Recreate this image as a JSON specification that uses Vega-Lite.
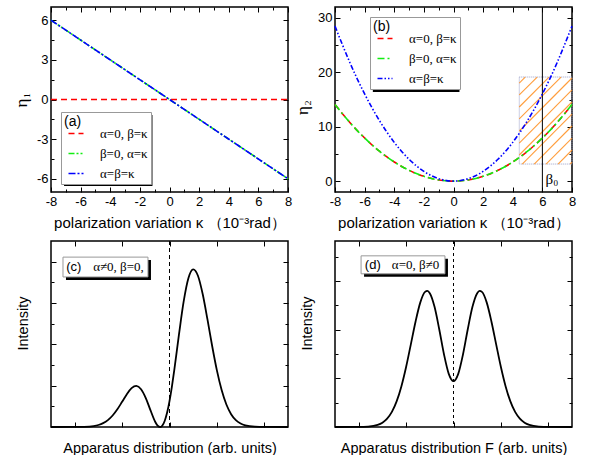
{
  "$schema": "https://vega.github.io/schema/vega-lite/v6.json",
  "padding": {"left": 11, "top": 5, "right": 5, "bottom": 5},
  "bounds": "flush",
  "columns": 2,
  "spacing": {"row": 49, "column": 47},
  "resolve": {
    "scale": {"x": "independent", "y": "independent", "color": "independent", "strokeDash": "independent"},
    "legend": {"color": "independent", "strokeDash": "independent"}
  },
  "config": {
    "view": {"stroke": "#000", "strokeWidth": 1.5},
    "axis": {
      "domain": false, "grid": false, "tickColor": "#000", "tickWidth": 1,
      "labelFont": "Liberation Sans", "labelFontSize": 13, "labelColor": "#000",
      "titleFont": "Liberation Sans", "titleFontSize": 14, "titleFontWeight": "normal", "titleColor": "#000",
      "labelFlush": false, "labelOverlap": false
    },
    "legend": {
      "titleFont": "Liberation Sans", "titleFontSize": 14, "titleFontWeight": "normal", "titleColor": "#000",
      "labelFont": "Liberation Serif", "labelFontSize": 13, "labelColor": "#000",
      "symbolType": "M-0.5,0H1.643", "symbolSize": 196, "symbolStrokeWidth": 1.6,
      "padding": 3, "rowPadding": 5, "labelOffset": 20, "titlePadding": -3.5,
      "fillColor": "#fff", "strokeColor": "#999"
    },
    "text": {"color": "#000"}
  },
  "datasets": {
    "la": [
      {"k": -8, "eta": 0, "s": "α=0, β=κ"}, {"k": 8, "eta": 0, "s": "α=0, β=κ"},
      {"k": -8, "eta": 6, "s": "β=0, α=κ"}, {"k": 8, "eta": -6, "s": "β=0, α=κ"},
      {"k": -8, "eta": 6, "s": "α=β=κ"}, {"k": 8, "eta": -6, "s": "α=β=κ"}
    ],
    "lb": [
      {"k": -8, "eta": 14.08, "s": "α=0, β=κ"}, {"k": -7, "eta": 10.78, "s": "α=0, β=κ"}, {"k": -6, "eta": 7.92, "s": "α=0, β=κ"}, {"k": -5, "eta": 5.5, "s": "α=0, β=κ"}, {"k": -4, "eta": 3.52, "s": "α=0, β=κ"}, {"k": -3, "eta": 1.98, "s": "α=0, β=κ"}, {"k": -2, "eta": 0.88, "s": "α=0, β=κ"}, {"k": -1, "eta": 0.22, "s": "α=0, β=κ"}, {"k": 0, "eta": 0, "s": "α=0, β=κ"}, {"k": 1, "eta": 0.22, "s": "α=0, β=κ"}, {"k": 2, "eta": 0.88, "s": "α=0, β=κ"}, {"k": 3, "eta": 1.98, "s": "α=0, β=κ"}, {"k": 4, "eta": 3.52, "s": "α=0, β=κ"}, {"k": 5, "eta": 5.5, "s": "α=0, β=κ"}, {"k": 6, "eta": 7.92, "s": "α=0, β=κ"}, {"k": 7, "eta": 10.78, "s": "α=0, β=κ"}, {"k": 8, "eta": 14.08, "s": "α=0, β=κ"},
      {"k": -8, "eta": 14.08, "s": "β=0, α=κ"}, {"k": -7, "eta": 10.78, "s": "β=0, α=κ"}, {"k": -6, "eta": 7.92, "s": "β=0, α=κ"}, {"k": -5, "eta": 5.5, "s": "β=0, α=κ"}, {"k": -4, "eta": 3.52, "s": "β=0, α=κ"}, {"k": -3, "eta": 1.98, "s": "β=0, α=κ"}, {"k": -2, "eta": 0.88, "s": "β=0, α=κ"}, {"k": -1, "eta": 0.22, "s": "β=0, α=κ"}, {"k": 0, "eta": 0, "s": "β=0, α=κ"}, {"k": 1, "eta": 0.22, "s": "β=0, α=κ"}, {"k": 2, "eta": 0.88, "s": "β=0, α=κ"}, {"k": 3, "eta": 1.98, "s": "β=0, α=κ"}, {"k": 4, "eta": 3.52, "s": "β=0, α=κ"}, {"k": 5, "eta": 5.5, "s": "β=0, α=κ"}, {"k": 6, "eta": 7.92, "s": "β=0, α=κ"}, {"k": 7, "eta": 10.78, "s": "β=0, α=κ"}, {"k": 8, "eta": 14.08, "s": "β=0, α=κ"},
      {"k": -8, "eta": 28.48, "s": "α=β=κ"}, {"k": -7, "eta": 21.81, "s": "α=β=κ"}, {"k": -6, "eta": 16.02, "s": "α=β=κ"}, {"k": -5, "eta": 11.13, "s": "α=β=κ"}, {"k": -4, "eta": 7.12, "s": "α=β=κ"}, {"k": -3, "eta": 4.01, "s": "α=β=κ"}, {"k": -2, "eta": 1.78, "s": "α=β=κ"}, {"k": -1, "eta": 0.45, "s": "α=β=κ"}, {"k": 0, "eta": 0, "s": "α=β=κ"}, {"k": 1, "eta": 0.45, "s": "α=β=κ"}, {"k": 2, "eta": 1.78, "s": "α=β=κ"}, {"k": 3, "eta": 4.01, "s": "α=β=κ"}, {"k": 4, "eta": 7.12, "s": "α=β=κ"}, {"k": 5, "eta": 11.13, "s": "α=β=κ"}, {"k": 6, "eta": 16.02, "s": "α=β=κ"}, {"k": 7, "eta": 21.81, "s": "α=β=κ"}, {"k": 8, "eta": 28.48, "s": "α=β=κ"}
    ],
    "hatch": [
      {"x": 4.44, "y": 18.03, "x2": 4.84, "y2": 19.13},
      {"x": 4.44, "y": 15.83, "x2": 5.65, "y2": 19.13},
      {"x": 4.44, "y": 13.62, "x2": 6.45, "y2": 19.13},
      {"x": 4.44, "y": 11.42, "x2": 7.26, "y2": 19.13},
      {"x": 4.44, "y": 9.21, "x2": 8.0, "y2": 18.95},
      {"x": 4.44, "y": 7.0, "x2": 8.0, "y2": 16.75},
      {"x": 4.44, "y": 4.8, "x2": 8.0, "y2": 14.54},
      {"x": 4.64, "y": 3.14, "x2": 8.0, "y2": 12.33},
      {"x": 5.45, "y": 3.14, "x2": 8.0, "y2": 10.13},
      {"x": 6.25, "y": 3.14, "x2": 8.0, "y2": 7.92},
      {"x": 7.06, "y": 3.14, "x2": 8.0, "y2": 5.72},
      {"x": 7.87, "y": 3.14, "x2": 8.0, "y2": 3.51}
    ],
    "hbox": [{"x": 4.44, "x2": 8, "y": 3.14, "y2": 19.13}],
    "beta0": [{"x": 6, "y": -0.16, "t": "β", "sub": "0"}],
    "shA": [{"x": -7.12, "x2": -1.15, "y": -1.17, "y2": -6.55}],
    "shB": [{"x": -5.445, "x2": 0.403, "y": 29.61, "y2": 16.38}],
    "cc": [
      {"x": -2.5, "i": 0}, {"x": -2.0, "i": 0.0015}, {"x": -1.8, "i": 0.009}, {"x": -1.6, "i": 0.047}, {"x": -1.5, "i": 0.097}, {"x": -1.4, "i": 0.186}, {"x": -1.3, "i": 0.334}, {"x": -1.2, "i": 0.556}, {"x": -1.1, "i": 0.856}, {"x": -1.0, "i": 1.217}, {"x": -0.9, "i": 1.588}, {"x": -0.8, "i": 1.878}, {"x": -0.7, "i": 1.986}, {"x": -0.6, "i": 1.829}, {"x": -0.5, "i": 1.401}, {"x": -0.4, "i": 0.801}, {"x": -0.3, "i": 0.243}, {"x": -0.25, "i": 0.066}, {"x": -0.2, "i": 0}, {"x": -0.15, "i": 0.074}, {"x": -0.1, "i": 0.305}, {"x": -0.05, "i": 0.70}, {"x": 0, "i": 1.253}, {"x": 0.05, "i": 1.945}, {"x": 0.1, "i": 2.741}, {"x": 0.2, "i": 4.481}, {"x": 0.3, "i": 6.086}, {"x": 0.4, "i": 7.207}, {"x": 0.5, "i": 7.624}, {"x": 0.6, "i": 7.319}, {"x": 0.7, "i": 6.433}, {"x": 0.8, "i": 5.217}, {"x": 0.9, "i": 3.92}, {"x": 1.0, "i": 2.738}, {"x": 1.1, "i": 1.785}, {"x": 1.2, "i": 1.088}, {"x": 1.3, "i": 0.621}, {"x": 1.4, "i": 0.332}, {"x": 1.5, "i": 0.166}, {"x": 1.6, "i": 0.078}, {"x": 1.8, "i": 0.014}, {"x": 2.0, "i": 0.002}, {"x": 2.5, "i": 0}
    ],
    "dd": [
      {"x": -2.5, "i": 0}, {"x": -2.0, "i": 0.003}, {"x": -1.8, "i": 0.017}, {"x": -1.6, "i": 0.086}, {"x": -1.5, "i": 0.178}, {"x": -1.4, "i": 0.342}, {"x": -1.3, "i": 0.62}, {"x": -1.2, "i": 1.053}, {"x": -1.1, "i": 1.67}, {"x": -1.0, "i": 2.469}, {"x": -0.9, "i": 3.4}, {"x": -0.8, "i": 4.341}, {"x": -0.7, "i": 5.125}, {"x": -0.6, "i": 5.557}, {"x": -0.55, "i": 5.596}, {"x": -0.5, "i": 5.503}, {"x": -0.4, "i": 4.942}, {"x": -0.3, "i": 4.011}, {"x": -0.2, "i": 2.982}, {"x": -0.1, "i": 2.185}, {"x": 0, "i": 1.885},
      {"x": 0.1, "i": 2.185}, {"x": 0.2, "i": 2.982}, {"x": 0.3, "i": 4.011}, {"x": 0.4, "i": 4.942}, {"x": 0.5, "i": 5.503}, {"x": 0.55, "i": 5.596}, {"x": 0.6, "i": 5.557}, {"x": 0.7, "i": 5.125}, {"x": 0.8, "i": 4.341}, {"x": 0.9, "i": 3.4}, {"x": 1.0, "i": 2.469}, {"x": 1.1, "i": 1.67}, {"x": 1.2, "i": 1.053}, {"x": 1.3, "i": 0.62}, {"x": 1.4, "i": 0.342}, {"x": 1.5, "i": 0.178}, {"x": 1.6, "i": 0.086}, {"x": 1.8, "i": 0.017}, {"x": 2.0, "i": 0.003}, {"x": 2.5, "i": 0}
    ],
    "zero": [{"x": 0}],
    "boxC": [{"x": -2.247, "x2": -0.454, "y": 7.26, "y2": 8.22}],
    "shC": [{"x": -2.184, "x2": -0.391, "y": 7.115, "y2": 8.075}],
    "txtC": [{"x": -2.18, "y": 7.74, "a": "(c)", "b": "α≠0, β=0,"}],
    "boxD": [{"x": -1.95, "x2": -0.18, "y": 6.30, "y2": 7.04}],
    "shD": [{"x": -1.887, "x2": -0.117, "y": 6.177, "y2": 6.917}],
    "txtD": [{"x": -1.87, "y": 6.67, "a": "(d)", "b": "α=0, β≠0"}]
  },
  "concat": [
    {
      "width": 237, "height": 185,
      "resolve": {"axis": {"x": "independent", "y": "independent"}},
      "layer": [
        {
          "data": {"name": "shA"},
          "mark": {"type": "rect", "color": "#000"},
          "encoding": {
            "x": {"field": "x", "type": "quantitative", "scale": {"domain": [-8, 8], "nice": false, "zero": false},
              "axis": {"orient": "top", "values": [-8,-7,-6,-5,-4,-3,-2,-1,0,1,2,3,4,5,6,7,8], "labels": false, "title": null,
                "tickSize": {"condition": {"test": "datum.value % 2 === 0", "value": -5}, "value": -3}}},
            "x2": {"field": "x2"},
            "y": {"field": "y", "type": "quantitative", "scale": {"domain": [-7, 7], "nice": false, "zero": false},
              "axis": {"orient": "right", "values": [-6,-4.5,-3,-1.5,0,1.5,3,4.5,6], "labels": false, "title": null,
                "tickSize": {"condition": {"test": "datum.value % 3 === 0", "value": -5}, "value": -3}}},
            "y2": {"field": "y2"}
          }
        },
        {
          "data": {"name": "la"},
          "mark": {"type": "line", "strokeWidth": 1.6},
          "encoding": {
            "x": {"field": "k", "type": "quantitative", "scale": {"domain": [-8, 8], "nice": false, "zero": false},
              "axis": {"orient": "bottom", "values": [-8,-7,-6,-5,-4,-3,-2,-1,0,1,2,3,4,5,6,7,8],
                "labelExpr": "datum.value % 2 === 0 ? '' + datum.value : ''",
                "tickSize": {"condition": {"test": "datum.value % 2 === 0", "value": -5}, "value": -3},
                "labelPadding": 8, "title": "polarization variation κ  （10⁻³rad）", "titleFontSize": 15, "titlePadding": 5}},
            "y": {"field": "eta", "type": "quantitative", "scale": {"domain": [-7, 7], "nice": false, "zero": false},
              "axis": {"orient": "left", "values": [-6,-4.5,-3,-1.5,0,1.5,3,4.5,6],
                "labelExpr": "datum.value % 3 === 0 ? '' + datum.value : ''",
                "tickSize": {"condition": {"test": "datum.value % 3 === 0", "value": -5}, "value": -3},
                "labelPadding": 8, "title": "η₁", "titleFont": "Liberation Serif", "titleFontSize": 17, "titlePadding": 6}},
            "color": {"field": "s", "type": "nominal",
              "scale": {"domain": ["α=0, β=κ", "β=0, α=κ", "α=β=κ"], "range": ["#ff0000", "#11ee11", "#0000ff"]},
              "legend": {"title": "(a)", "orient": "none", "legendX": 10, "legendY": 105}},
            "strokeDash": {"field": "s", "type": "nominal",
              "scale": {"domain": ["α=0, β=κ", "β=0, α=κ", "α=β=κ"], "range": [[6, 4], [6, 2, 2, 2, 2, 2], [7, 2, 2, 2]]},
              "legend": {"title": "(a)", "orient": "none", "legendX": 10, "legendY": 105}}
          }
        }
      ]
    },
    {
      "width": 237, "height": 185,
      "resolve": {"axis": {"x": "independent", "y": "independent"}},
      "layer": [
        {
          "data": {"name": "hbox"},
          "mark": {"type": "rect", "fill": "#fff", "fillOpacity": 0, "stroke": "#9aa0c8", "strokeWidth": 1, "strokeDash": [1, 1]},
          "encoding": {
            "x": {"field": "x", "type": "quantitative", "scale": {"domain": [-8, 8], "nice": false, "zero": false},
              "axis": {"orient": "top", "values": [-8,-7,-6,-5,-4,-3,-2,-1,0,1,2,3,4,5,6,7,8], "labels": false, "title": null,
                "tickSize": {"condition": {"test": "datum.value % 2 === 0", "value": -5}, "value": -3}}},
            "x2": {"field": "x2"},
            "y": {"field": "y", "type": "quantitative", "scale": {"domain": [-2, 32], "nice": false, "zero": false},
              "axis": {"orient": "right", "values": [0,5,10,15,20,25,30], "labels": false, "title": null,
                "tickSize": {"condition": {"test": "datum.value % 10 === 0", "value": -5}, "value": -3}}},
            "y2": {"field": "y2"}
          }
        },
        {
          "data": {"name": "hatch"},
          "mark": {"type": "rule", "stroke": "#ff8c1a", "strokeWidth": 1.1, "opacity": 0.85},
          "encoding": {
            "x": {"field": "x", "type": "quantitative", "axis": null},
            "x2": {"field": "x2"},
            "y": {"field": "y", "type": "quantitative", "axis": null},
            "y2": {"field": "y2"}
          }
        },
        {
          "data": {"name": "beta0"},
          "mark": {"type": "rule", "color": "#000", "strokeWidth": 1},
          "encoding": {
            "x": {"field": "x", "type": "quantitative", "axis": null}
          }
        },
        {
          "data": {"name": "beta0"},
          "mark": {"type": "text", "font": "Liberation Serif", "fontSize": 15, "align": "left", "baseline": "middle", "dx": 3, "dy": -3},
          "encoding": {
            "x": {"field": "x", "type": "quantitative", "axis": null},
            "y": {"field": "y", "type": "quantitative", "axis": null},
            "text": {"field": "t"}
          }
        },
        {
          "data": {"name": "beta0"},
          "mark": {"type": "text", "font": "Liberation Serif", "fontSize": 9, "align": "left", "baseline": "middle", "dx": 11, "dy": 1},
          "encoding": {
            "x": {"field": "x", "type": "quantitative", "axis": null},
            "y": {"field": "y", "type": "quantitative", "axis": null},
            "text": {"field": "sub"}
          }
        },
        {
          "data": {"name": "shB"},
          "mark": {"type": "rect", "color": "#000"},
          "encoding": {
            "x": {"field": "x", "type": "quantitative", "axis": null},
            "x2": {"field": "x2"},
            "y": {"field": "y", "type": "quantitative", "axis": null},
            "y2": {"field": "y2"}
          }
        },
        {
          "data": {"name": "lb"},
          "mark": {"type": "line", "strokeWidth": 1.6, "interpolate": "natural"},
          "encoding": {
            "x": {"field": "k", "type": "quantitative", "scale": {"domain": [-8, 8], "nice": false, "zero": false},
              "axis": {"orient": "bottom", "values": [-8,-7,-6,-5,-4,-3,-2,-1,0,1,2,3,4,5,6,7,8],
                "labelExpr": "datum.value % 2 === 0 ? '' + datum.value : ''",
                "tickSize": {"condition": {"test": "datum.value % 2 === 0", "value": -5}, "value": -3},
                "labelPadding": 8, "title": "polarization variation κ  （10⁻³rad）", "titleFontSize": 15, "titlePadding": 5}},
            "y": {"field": "eta", "type": "quantitative", "scale": {"domain": [-2, 32], "nice": false, "zero": false},
              "axis": {"orient": "left", "values": [0,5,10,15,20,25,30],
                "labelExpr": "datum.value % 10 === 0 ? '' + datum.value : ''",
                "tickSize": {"condition": {"test": "datum.value % 10 === 0", "value": -5}, "value": -3},
                "labelPadding": 8, "title": "η₂", "titleFont": "Liberation Serif", "titleFontSize": 17, "titlePadding": 6, "titleY": 100}},
            "color": {"field": "s", "type": "nominal",
              "scale": {"domain": ["α=0, β=κ", "β=0, α=κ", "α=β=κ"], "range": ["#ff0000", "#11ee11", "#0000ff"]},
              "legend": {"title": "(b)", "orient": "none", "legendX": 35, "legendY": 10}},
            "strokeDash": {"field": "s", "type": "nominal",
              "scale": {"domain": ["α=0, β=κ", "β=0, α=κ", "α=β=κ"], "range": [[6, 4], [7, 3, 2, 3], [5, 2, 1.5, 2, 1.5, 2]]},
              "legend": {"title": "(b)", "orient": "none", "legendX": 35, "legendY": 10}}
          }
        }
      ]
    },
    {
      "width": 237, "height": 186,
      "resolve": {"axis": {"x": "independent", "y": "independent"}},
      "layer": [
        {
          "data": {"name": "shC"},
          "mark": {"type": "rect", "color": "#000"},
          "encoding": {
            "x": {"field": "x", "type": "quantitative", "scale": {"domain": [-2.5, 2.5], "nice": false, "zero": false},
              "axis": {"orient": "top", "values": [-2,-1,0,1,2], "labels": false, "title": null, "tickSize": -5}},
            "x2": {"field": "x2"},
            "y": {"field": "y", "type": "quantitative", "scale": {"domain": [0, 9], "nice": false, "zero": false},
              "axis": {"orient": "right", "values": [1,2,3,4,5,6,7,8], "labels": false, "title": null,
                "tickSize": {"condition": {"test": "datum.value % 2 === 0", "value": -5}, "value": -3}}},
            "y2": {"field": "y2"}
          }
        },
        {
          "data": {"name": "boxC"},
          "mark": {"type": "rect", "fill": "#fff", "stroke": "#999", "strokeWidth": 1},
          "encoding": {
            "x": {"field": "x", "type": "quantitative", "axis": null},
            "x2": {"field": "x2"},
            "y": {"field": "y", "type": "quantitative", "axis": null},
            "y2": {"field": "y2"}
          }
        },
        {
          "data": {"name": "txtC"},
          "mark": {"type": "text", "font": "Liberation Sans", "fontSize": 13, "align": "left", "baseline": "middle"},
          "encoding": {
            "x": {"field": "x", "type": "quantitative", "axis": null},
            "y": {"field": "y", "type": "quantitative", "axis": null},
            "text": {"field": "a"}
          }
        },
        {
          "data": {"name": "txtC"},
          "mark": {"type": "text", "font": "Liberation Serif", "fontSize": 13, "align": "left", "baseline": "middle", "dx": 27},
          "encoding": {
            "x": {"field": "x", "type": "quantitative", "axis": null},
            "y": {"field": "y", "type": "quantitative", "axis": null},
            "text": {"field": "b"}
          }
        },
        {
          "data": {"name": "zero"},
          "mark": {"type": "rule", "color": "#000", "strokeWidth": 1, "strokeDash": [4, 3]},
          "encoding": {
            "x": {"field": "x", "type": "quantitative", "axis": null}
          }
        },
        {
          "data": {"name": "cc"},
          "mark": {"type": "line", "color": "#000", "strokeWidth": 1.8, "interpolate": "monotone"},
          "encoding": {
            "x": {"field": "x", "type": "quantitative", "scale": {"domain": [-2.5, 2.5], "nice": false, "zero": false},
              "axis": {"orient": "bottom", "values": [-2,-1,0,1,2], "labels": false, "tickSize": -5,
                "title": "Apparatus distribution (arb. units)", "titleFontSize": 14.5, "titlePadding": 14}},
            "y": {"field": "i", "type": "quantitative", "scale": {"domain": [0, 9], "nice": false, "zero": false},
              "axis": {"orient": "left", "values": [1,2,3,4,5,6,7,8], "labels": false,
                "tickSize": {"condition": {"test": "datum.value % 2 === 0", "value": -5}, "value": -3},
                "title": "Intensity", "titleFontSize": 14.5, "titlePadding": 20, "titleY": 82}}
          }
        }
      ]
    },
    {
      "width": 237, "height": 186,
      "resolve": {"axis": {"x": "independent", "y": "independent"}},
      "layer": [
        {
          "data": {"name": "shD"},
          "mark": {"type": "rect", "color": "#000"},
          "encoding": {
            "x": {"field": "x", "type": "quantitative", "scale": {"domain": [-2.5, 2.5], "nice": false, "zero": false},
              "axis": {"orient": "top", "values": [-2,-1,0,1,2], "labels": false, "title": null, "tickSize": -5}},
            "x2": {"field": "x2"},
            "y": {"field": "y", "type": "quantitative", "scale": {"domain": [0, 7.65], "nice": false, "zero": false},
              "axis": {"orient": "right", "values": [1,2,3,4,5,6,7], "labels": false, "title": null,
                "tickSize": {"condition": {"test": "datum.value % 2 === 0", "value": -5}, "value": -3}}},
            "y2": {"field": "y2"}
          }
        },
        {
          "data": {"name": "boxD"},
          "mark": {"type": "rect", "fill": "#fff", "stroke": "#999", "strokeWidth": 1},
          "encoding": {
            "x": {"field": "x", "type": "quantitative", "axis": null},
            "x2": {"field": "x2"},
            "y": {"field": "y", "type": "quantitative", "axis": null},
            "y2": {"field": "y2"}
          }
        },
        {
          "data": {"name": "txtD"},
          "mark": {"type": "text", "font": "Liberation Sans", "fontSize": 13, "align": "left", "baseline": "middle"},
          "encoding": {
            "x": {"field": "x", "type": "quantitative", "axis": null},
            "y": {"field": "y", "type": "quantitative", "axis": null},
            "text": {"field": "a"}
          }
        },
        {
          "data": {"name": "txtD"},
          "mark": {"type": "text", "font": "Liberation Serif", "fontSize": 13, "align": "left", "baseline": "middle", "dx": 27},
          "encoding": {
            "x": {"field": "x", "type": "quantitative", "axis": null},
            "y": {"field": "y", "type": "quantitative", "axis": null},
            "text": {"field": "b"}
          }
        },
        {
          "data": {"name": "zero"},
          "mark": {"type": "rule", "color": "#000", "strokeWidth": 1, "strokeDash": [3, 3]},
          "encoding": {
            "x": {"field": "x", "type": "quantitative", "axis": null}
          }
        },
        {
          "data": {"name": "dd"},
          "mark": {"type": "line", "color": "#000", "strokeWidth": 1.8, "interpolate": "monotone"},
          "encoding": {
            "x": {"field": "x", "type": "quantitative", "scale": {"domain": [-2.5, 2.5], "nice": false, "zero": false},
              "axis": {"orient": "bottom", "values": [-2,-1,0,1,2], "labels": false, "tickSize": -5,
                "title": "Apparatus distribution F (arb. units)", "titleFontSize": 14.5, "titlePadding": 14}},
            "y": {"field": "i", "type": "quantitative", "scale": {"domain": [0, 7.65], "nice": false, "zero": false},
              "axis": {"orient": "left", "values": [1,2,3,4,5,6,7], "labels": false,
                "tickSize": {"condition": {"test": "datum.value % 2 === 0", "value": -5}, "value": -3},
                "title": "Intensity", "titleFontSize": 14.5, "titlePadding": 20, "titleY": 82}}
          }
        }
      ]
    }
  ]
}
